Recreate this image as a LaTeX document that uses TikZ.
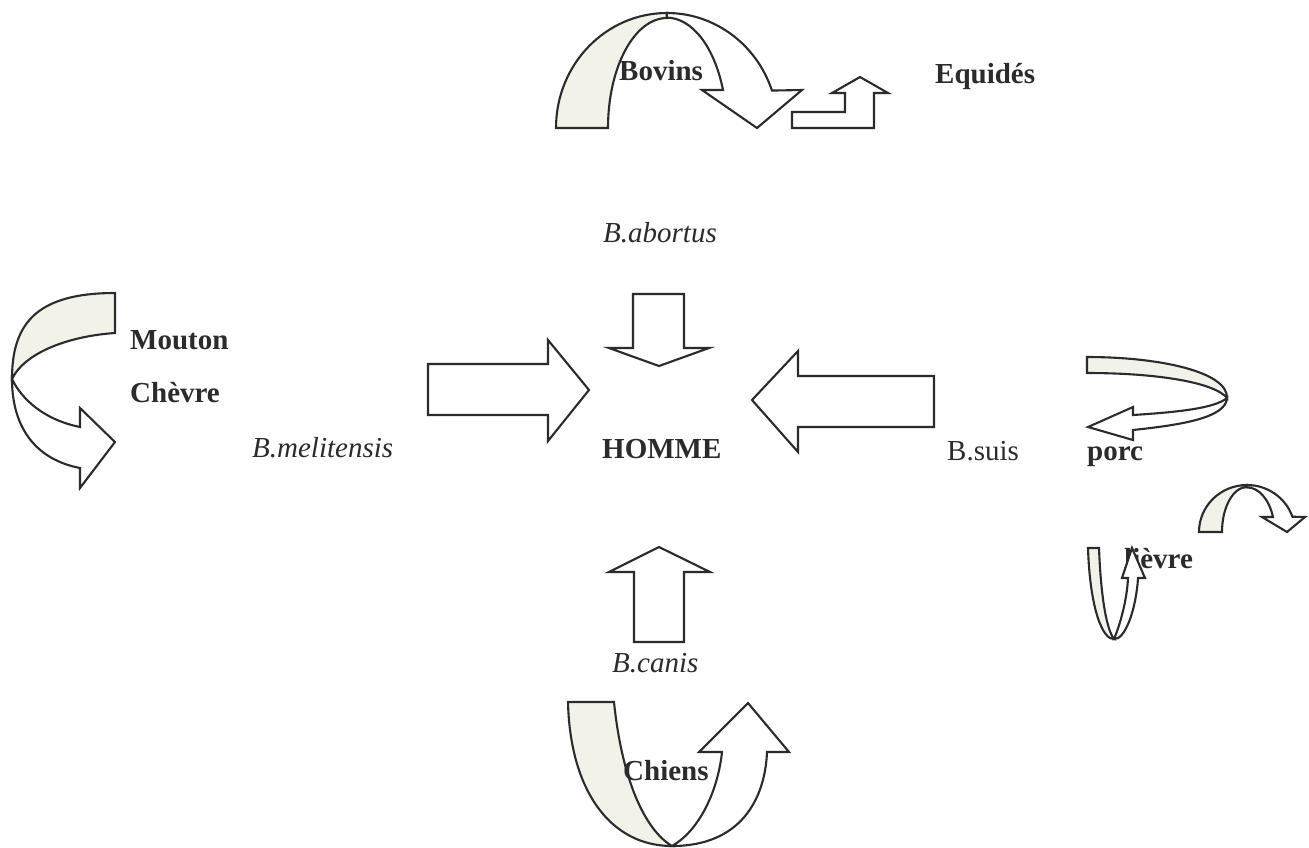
\documentclass[tikz,border=0pt]{standalone}
\usepackage{fontspec}
\setmainfont{Liberation Serif}
\usetikzlibrary{positioning}
\definecolor{bandfill}{HTML}{F3F2E8}
\definecolor{inkgrey}{HTML}{2B2B2B}

\begin{document}
\begin{tikzpicture}[x=1pt, y=-1pt,
      blockarrow/.style={draw=inkgrey, fill=white, line width=2.1pt},
      backband/.style={draw=inkgrey, fill=bandfill, line width=2.1pt},
      host/.style={anchor=base west, inner sep=0pt, text=inkgrey,
        font=\fontsize{29}{34}\selectfont\bfseries},
      germ/.style={anchor=base west, inner sep=0pt, text=inkgrey,
        font=\fontsize{29}{34}\selectfont\itshape},
      germup/.style={anchor=base west, inner sep=0pt, text=inkgrey,
        font=\fontsize{29}{34}\selectfont}
    ]
      \fill[white] (0,0) rectangle (1309,847);
      \useasboundingbox (0,0) rectangle (1309,847);

      % straight arrows towards HOMME
      \draw[blockarrow] (428,364) -- (548,364) -- (548,340) -- (589,390)
        -- (548,441) -- (548,415) -- (428,415) -- cycle;
      \draw[blockarrow] (633,294) -- (684,294) -- (684,348) -- (709,348)
        -- (659,366) -- (609,348) -- (633,348) -- cycle;
      \draw[blockarrow] (934,376) -- (798,376) -- (798,351) -- (752,400)
        -- (798,452) -- (798,427) -- (934,427) -- cycle;
      \draw[blockarrow] (634,642) -- (634,572) -- (609,572) -- (659,547)
        -- (710,572) -- (684,572) -- (684,642) -- cycle;

      % Bovins loop and Equides
      \draw[backband] (556,128) arc[start angle=180, end angle=270, x radius=111, y radius=115]
        -- (667,18) arc[start angle=270, end angle=180, x radius=59, y radius=110] -- cycle;
      \draw[blockarrow] (667,13) arc[start angle=270, end angle=341, x radius=111, y radius=115]
        -- (802,90) -- (757,128) -- (702,90) -- (723,90)
        arc[start angle=340, end angle=270, x radius=60, y radius=110] -- cycle;
      \draw[blockarrow] (792,112) -- (845,112) -- (845,93) -- (832,93) -- (860,77)
        -- (888,93) -- (874,93) -- (874,128) -- (792,128) -- cycle;

      % Mouton / Chevre loop
      \draw[backband] (115,293) .. controls (35,293) and (12,325) .. (12,379)
        .. controls (25,352) and (70,336) .. (115,333) -- cycle;
      \draw[blockarrow] (12,379) .. controls (12,430) and (38,460) .. (80,468)
        -- (80,488) -- (115,442) -- (80,408) -- (80,427)
        .. controls (45,420) and (22,400) .. (12,379) -- cycle;

      % porc loop
      \draw[backband] (1087,357) .. controls (1160,357) and (1228,372) .. (1227,398)
        .. controls (1215,383) and (1160,373) .. (1087,373) -- cycle;
      \draw[blockarrow] (1227,398) .. controls (1226,418) and (1180,425) .. (1133,430)
        -- (1133,440) -- (1088,427) -- (1133,407) -- (1133,415)
        .. controls (1180,412) and (1215,408) .. (1227,398) -- cycle;

      % lievre loops
      \draw[backband] (1199,532) arc[start angle=180, end angle=270, x radius=48, y radius=47]
        -- (1247,487) arc[start angle=270, end angle=180, x radius=25, y radius=45] -- cycle;
      \draw[blockarrow] (1247,485) arc[start angle=270, end angle=341, x radius=48, y radius=47]
        -- (1305,517) -- (1287,532) -- (1262,517) -- (1273,517)
        arc[start angle=340, end angle=270, x radius=27.5, y radius=45] -- cycle;
      \node[host] (lievre) at (1124,568) {lièvre};
      \draw[backband] (1088,548) -- (1099,548) .. controls (1101,600) and (1107,630) .. (1114,639)
        .. controls (1103,640) and (1090,610) .. (1088,548) -- cycle;
      \draw[blockarrow] (1114,639) .. controls (1125,640) and (1136,610) .. (1138,578)
        -- (1145,578) -- (1132,548) -- (1122,578) -- (1128,578)
        .. controls (1127,600) and (1120,625) .. (1114,639) -- cycle;

      % Chiens loop
      \draw[backband] (568,702) -- (614,702) .. controls (622,780) and (645,830) .. (672,846)
        .. controls (610,846) and (570,790) .. (568,702) -- cycle;
      \draw[blockarrow] (672,846) .. controls (740,846) and (765,800) .. (767,752)
        -- (789,752) -- (748,703) -- (699,752) -- (722,752)
        .. controls (718,790) and (700,830) .. (672,846) -- cycle;

      % labels
      \node[host] (bovins) at (619,80) {Bovins};
      \node[host] (equides) at (935,83) {Equidés};
      \node[germ] (abortus) at (603,242) {B.abortus};
      \node[host] (mouton) at (130,349) {Mouton};
      \node[host] (chevre) at (130,402) {Chèvre};
      \node[germ] (melitensis) at (252,457) {B.melitensis};
      \node[host] (homme) at (602,458) {HOMME};
      \node[germup] (suis) at (947,460) {B.suis};
      \node[host] (porc) at (1087,460) {porc};
      \node[germ] (canis) at (612,672) {B.canis};
      \node[host] (chiens) at (623,780) {Chiens};
    \end{tikzpicture}
\end{document}
